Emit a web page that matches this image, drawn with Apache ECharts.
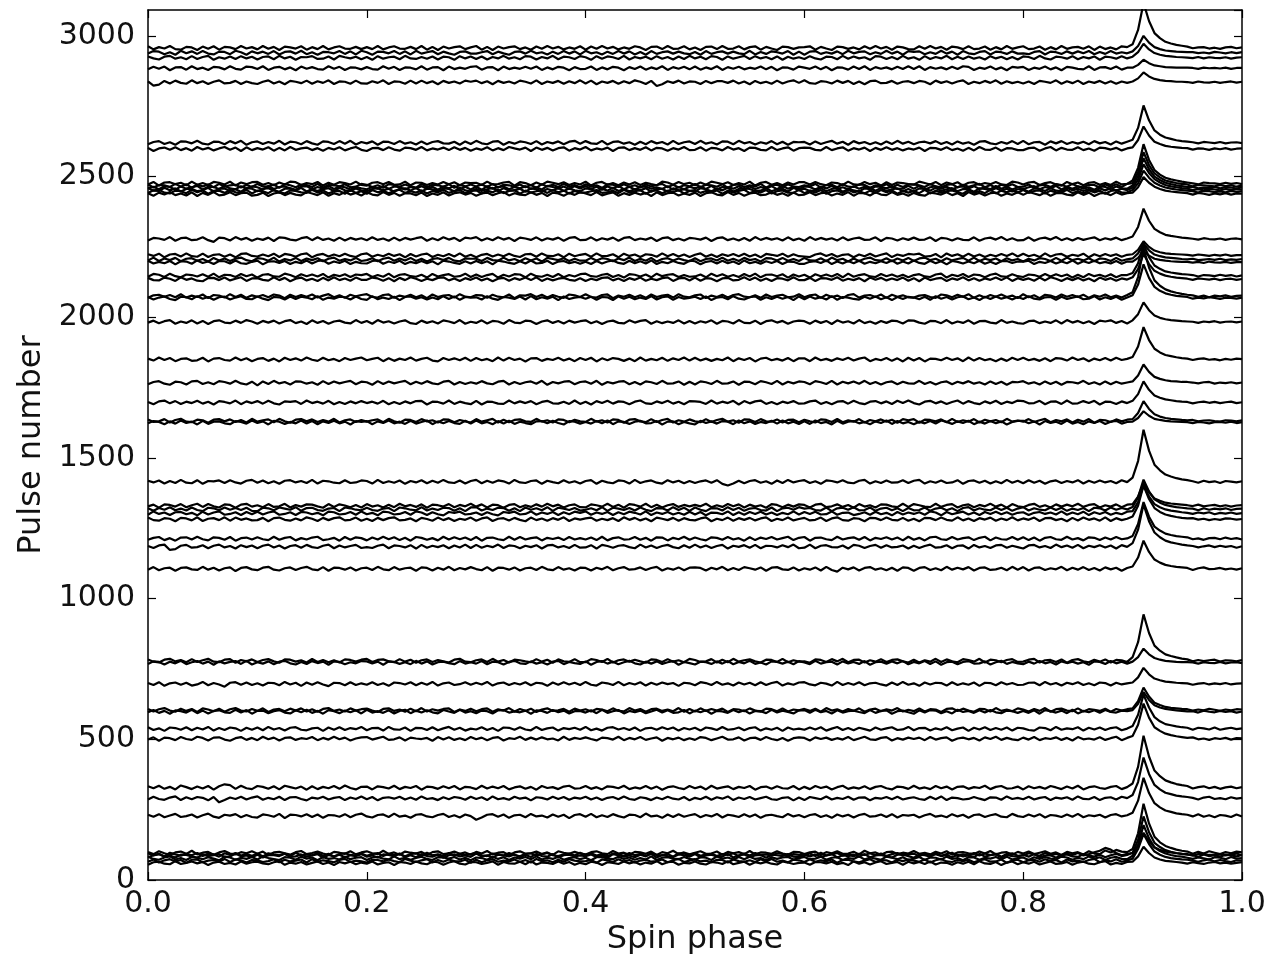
<!DOCTYPE html>
<html>
<head>
<meta charset="utf-8">
<title>Pulse profiles vs spin phase</title>
<script src="https://cdn.jsdelivr.net/npm/echarts@6/dist/echarts.min.js"></script>
<style>
  html, body { margin: 0; padding: 0; background: #fff; }
  #chart { width: 1282px; height: 954px; }
</style>
</head>
<body>
<div id="chart"></div>
<script>
// Spin-phase bins (200 bins across one rotation)
const PHASE = [
  0.000,0.005,0.010,0.015,0.020,0.025,0.030,0.035,0.040,0.045,0.050,0.055,0.060,0.065,0.070,0.075,0.080,0.085,0.090,0.095,
  0.100,0.105,0.110,0.115,0.120,0.125,0.130,0.135,0.140,0.145,0.150,0.155,0.160,0.165,0.170,0.175,0.180,0.185,0.190,0.195,
  0.200,0.205,0.210,0.215,0.220,0.225,0.230,0.235,0.240,0.245,0.250,0.255,0.260,0.265,0.270,0.275,0.280,0.285,0.290,0.295,
  0.300,0.305,0.310,0.315,0.320,0.325,0.330,0.335,0.340,0.345,0.350,0.355,0.360,0.365,0.370,0.375,0.380,0.385,0.390,0.395,
  0.400,0.405,0.410,0.415,0.420,0.425,0.430,0.435,0.440,0.445,0.450,0.455,0.460,0.465,0.470,0.475,0.480,0.485,0.490,0.495,
  0.500,0.505,0.510,0.515,0.520,0.525,0.530,0.535,0.540,0.545,0.550,0.555,0.560,0.565,0.570,0.575,0.580,0.585,0.590,0.595,
  0.600,0.605,0.610,0.615,0.620,0.625,0.630,0.635,0.640,0.645,0.650,0.655,0.660,0.665,0.670,0.675,0.680,0.685,0.690,0.695,
  0.700,0.705,0.710,0.715,0.720,0.725,0.730,0.735,0.740,0.745,0.750,0.755,0.760,0.765,0.770,0.775,0.780,0.785,0.790,0.795,
  0.800,0.805,0.810,0.815,0.820,0.825,0.830,0.835,0.840,0.845,0.850,0.855,0.860,0.865,0.870,0.875,0.880,0.885,0.890,0.895,
  0.900,0.905,0.910,0.915,0.920,0.925,0.930,0.935,0.940,0.945,0.950,0.955,0.960,0.965,0.970,0.975,0.980,0.985,0.990,0.995,
  1.000
];

// Pulse number at which each profile is plotted (its baseline)
const BASELINES = [
  96, 86, 77, 68, 90, 60, 228, 290, 328, 502,
  537, 598, 604, 697, 772, 779, 1106, 1185, 1213, 1282,
  1303, 1318, 1330, 1415, 1626, 1632, 1697, 1767, 1850, 1983,
  2068, 2075, 2135, 2148, 2195, 2205, 2220, 2278, 2438, 2446,
  2453, 2460, 2467, 2475, 2598, 2620, 2835, 2885, 2922, 2940,
  2957
];

// Profile offsets from the baseline, one value per PHASE bin
const trace01 = [
  3,-4,6,-1,-7,2,5,-3,8,-5,1,4,-6,2,7,-2,-5,3,-1,6,
  -3,5,-8,2,4,-1,-6,3,7,-4,0,5,-2,-7,4,1,-3,6,-5,2,
  6,-1,-4,8,-3,2,-6,5,1,-2,4,-7,3,6,-4,-1,5,-3,2,-6,
  4,-2,7,-5,1,3,-8,2,6,-3,-1,5,-4,2,-7,6,1,-3,4,-2,
  -5,3,6,-1,-4,7,-2,1,-6,4,2,-3,5,-7,3,-1,8,-4,2,-5,
  1,6,-3,-2,5,-6,4,-1,3,-4,7,-5,2,1,-3,6,-2,-6,4,3,
  -4,2,5,-7,3,-1,6,-3,-2,4,-5,8,-1,2,-6,3,5,-4,1,-2,
  7,-3,1,-5,4,-2,6,-6,2,3,-1,-4,5,-2,7,-5,1,3,-6,4,
  -2,5,-4,1,6,-3,2,-7,4,-1,3,-5,6,-2,-4,9,2,11,5,3,
  14,70,175,105,58,38,25,18,12,8,5,-3,4,-2,6,1,-4,3,-1,5,2];
const trace02 = [
  -5,2,7,-3,1,-6,4,3,-2,-7,5,-1,2,6,-4,-3,8,-2,1,-5,
  4,-6,3,2,-1,7,-4,-2,5,-3,1,6,-7,3,-2,4,-5,2,-1,6,
  -3,1,-6,5,3,-2,7,-4,2,-5,6,-1,-3,4,-7,2,5,-2,1,-4,
  8,-3,2,-6,4,1,-2,5,-5,3,-4,7,-1,-3,6,-6,2,4,-2,1,
  -1,5,-4,3,-7,6,2,-3,1,-5,4,-2,7,-6,3,-1,-4,5,2,-3,
  6,-5,1,4,-2,-3,7,-6,2,5,-4,1,3,-7,4,2,-1,6,-3,-5,
  3,-2,5,-4,1,7,-6,2,-1,4,-3,6,-5,1,3,-2,-6,4,5,-1,
  -7,4,2,-3,6,-1,3,-5,4,-2,1,-4,7,-3,2,5,-6,3,-1,-2,
  4,-3,6,-5,1,2,-7,3,5,-2,-4,6,1,-3,4,-5,2,7,-1,3,
  11,56,140,84,46,31,20,14,10,7,4,3,-4,5,-1,2,-3,4,1,-2,3];
const trace03 = [
  6,-2,-5,3,7,-4,1,-6,5,2,-3,4,-1,-7,6,3,-5,2,-2,5,
  -4,7,1,-3,-6,4,2,-5,6,-1,3,-7,5,-2,1,-4,6,-3,2,4,
  -6,3,5,-1,-4,7,-3,2,-5,1,6,-2,-6,4,3,-1,5,-4,2,-7,
  3,1,-5,6,-2,4,-6,3,-1,5,-3,7,-4,2,-2,6,-5,1,4,-3,
  2,-7,4,5,-1,-3,6,-2,3,-5,1,-4,7,-6,2,4,-1,-3,5,-2,
  -5,4,2,-6,7,-1,3,-4,5,-3,6,-2,1,-7,4,-2,3,5,-4,1,
  5,-3,-1,6,-5,2,4,-6,1,-2,7,-4,3,-1,-5,6,2,-3,4,-6,
  -1,5,-6,3,2,-4,6,-2,1,-7,4,3,-5,2,-1,5,-3,6,-4,1,
  3,-6,4,-2,5,-1,-4,6,3,-5,2,-3,7,-1,4,-6,2,5,-2,-3,
  9,47,118,71,39,26,17,12,8,6,2,-2,3,0,-4,4,2,-3,5,-1,1];
const trace04 = [
  -3,5,-6,2,6,-2,3,-7,4,5,-5,1,3,-3,7,-4,5,2,-6,3,
  2,-4,-1,6,-5,4,-2,1,5,-6,6,-3,2,-1,-5,3,7,-4,1,-2,
  -6,4,3,-2,5,-1,-5,7,1,-4,2,6,-6,3,-3,5,-1,-2,4,-7,
  4,-5,2,6,-3,1,-2,5,-4,3,-6,7,-1,2,-5,4,-3,6,1,-2,
  -1,3,-7,5,2,-4,6,-2,3,-6,1,4,-3,-1,5,-5,2,7,-4,1,
  6,-2,1,-5,4,3,-6,5,-1,-3,2,-4,6,-2,7,-3,1,-5,4,2,
  -4,6,-3,2,-1,5,-7,3,4,-2,-5,1,6,-4,3,2,-6,4,-1,5,
  1,-3,5,-6,2,7,-2,-4,3,-1,4,-5,2,6,-3,-2,5,-7,1,4,
  -5,2,4,-3,6,-1,3,-6,5,-2,1,-4,3,7,-5,2,-2,6,-3,1,
  8,42,96,60,33,22,14,10,7,5,4,1,-3,2,5,-2,3,-1,-4,2,1];
const trace05 = [
  5,-3,2,-6,7,1,-4,3,-2,6,-5,4,1,-7,5,-1,6,-3,2,-4,
  3,-6,5,1,-2,4,-5,7,-3,1,-2,6,-4,3,-7,2,5,-1,-3,4,
  -4,2,6,-5,3,-1,4,-6,2,5,-3,7,-2,1,-5,6,-4,3,-1,2,
  7,-2,-5,4,1,-3,6,-1,-6,3,5,-4,2,6,-2,-5,1,4,-3,7,
  -1,5,-3,2,-6,4,1,-4,6,-2,3,-5,7,-1,-3,2,-7,5,4,-2,
  6,-4,1,3,-5,2,-1,5,-6,4,-3,6,-2,1,-4,5,3,-6,2,-1,
  -2,4,-5,7,-3,1,6,-4,2,-6,3,-1,5,-2,4,-5,2,6,-3,1,
  4,-6,3,-1,5,-4,2,7,-5,1,-2,6,-3,4,-1,3,-7,2,5,-4,
  -3,5,1,-4,6,-2,3,-5,4,-1,6,-3,2,8,14,24,18,6,-2,3,
  6,31,78,47,26,17,11,8,5,3,2,-4,2,3,-1,0,2,-3,1,4,-2];
const trace06 = [
  -6,3,5,-2,-4,7,-3,1,6,-1,4,-7,2,5,-3,1,-5,6,-2,3,
  5,-1,-4,3,7,-6,2,-2,4,-5,1,6,-3,2,-7,4,-1,5,-4,2,
  -2,6,-5,1,3,-7,4,2,-3,6,-1,-4,5,3,-6,2,7,-2,-5,4,
  3,-3,1,6,-6,4,-1,-2,5,-4,7,-5,2,1,-3,6,-2,4,-6,1,
  -4,5,2,-7,3,1,-3,6,-1,4,-5,2,-2,7,-4,3,5,-6,1,-1,
  6,-2,-5,4,2,-3,7,-4,1,5,-6,3,-1,4,-2,-5,6,2,-3,1,
  2,-6,4,3,-1,5,-4,1,-7,6,-2,3,-5,2,7,-3,1,4,-6,5,
  -1,4,-3,6,-5,2,1,-6,3,-2,5,-4,7,-1,-3,4,-7,2,6,-4,
  3,-2,5,-5,1,6,-3,-1,4,-6,2,5,-2,-4,3,7,-5,1,-3,4,
  5,24,58,36,20,13,8,6,4,2,-2,3,0,-3,2,4,-1,2,-2,1,3];
const trace07 = [
  4,-3,6,-5,1,7,-4,-1,5,-6,2,8,-3,-7,4,1,6,-5,3,-4,
  -6,5,2,-3,7,-8,4,3,-2,6,-4,5,-7,3,2,-3,6,-5,4,8,
  -2,-6,3,5,-4,8,-3,1,-7,4,6,-2,-5,3,7,-4,2,-6,5,-1,
  -14,-6,4,6,-3,5,-7,2,4,-5,7,-2,1,-6,5,-3,4,-8,3,6,
  -3,7,-5,2,-4,6,-1,-6,4,3,-5,8,-2,1,-7,5,-4,6,-3,2,
  6,-5,3,-2,7,-6,4,1,-4,6,-3,5,-7,2,4,-1,-5,7,-2,3,
  -5,3,6,-4,2,-7,5,-2,4,-6,3,7,-3,-1,5,-4,6,-6,3,1,
  4,-6,2,7,-3,1,-5,6,-2,4,-7,3,5,-4,2,6,-3,-5,7,-1,
  -4,5,-2,6,-6,3,1,-4,5,-3,7,-5,2,-1,4,-6,3,6,-2,2,
  11,54,135,81,45,30,19,14,9,6,4,-2,6,-3,2,-5,3,1,-4,5,-2];
const trace08 = [
  -4,6,-2,-5,3,7,-6,4,-3,5,2,-7,5,-14,-6,3,-2,6,-4,3,
  7,-5,2,-3,6,-6,4,5,-2,-7,3,-1,6,-4,2,5,-6,3,-2,7,
  -3,5,-7,2,4,-1,6,-4,3,-5,7,-2,1,-6,4,-3,5,2,-5,6,
  -2,4,-6,7,-3,1,-5,6,-1,3,-7,4,2,-4,6,-2,5,-5,3,-1,
  6,-4,3,-6,2,5,-3,7,-2,-5,4,1,-6,3,-3,6,-1,-4,5,-7,
  2,-3,6,-5,4,-1,7,-6,3,-2,5,-4,1,6,-3,-5,2,4,-7,3,
  -6,5,1,-3,7,-4,2,-2,6,-5,3,4,-7,2,-1,5,-3,6,-4,1,
  4,-2,-5,6,-3,7,-6,3,1,-4,-2,5,-1,-6,4,3,-5,7,-2,2,
  -3,6,-4,2,5,-6,3,-1,4,-5,7,-2,-3,5,-6,2,4,-4,6,1,
  12,58,145,87,48,32,20,15,10,7,5,2,-4,3,6,-2,1,-3,4,-1,2];
const trace09 = [
  5,-2,7,-4,3,-6,8,2,-5,4,-3,6,-7,5,12,9,-4,7,-2,-5,
  6,3,-4,5,-6,7,2,-3,4,-7,5,-5,3,-2,6,-4,8,-1,-6,3,
  4,-6,5,2,-3,7,-5,3,-1,6,-7,4,2,-4,5,-2,6,-6,3,1,
  -5,7,-3,4,-2,6,-6,1,5,-4,3,-7,6,-1,2,-5,4,7,-3,-2,
  6,-4,2,-6,5,3,-2,7,-5,1,-3,6,-4,4,-7,2,5,-1,-5,6,
  -2,4,-6,7,-3,1,5,-5,3,-1,6,-7,2,4,-4,5,-2,-3,6,-6,
  3,-5,6,-1,4,-6,2,7,-4,1,-3,5,-5,3,6,-2,-6,4,2,-4,
  7,-3,1,-5,6,-2,4,-6,3,5,-4,2,-1,7,-5,3,6,-3,-2,4,
  -6,5,-2,3,-4,6,1,-5,4,-3,7,-6,2,5,-1,-4,3,6,-5,2,
  15,74,185,111,61,41,26,19,13,9,6,-3,2,5,-2,3,-4,1,4,-2,2];
const trace10 = [
  -3,5,-7,4,2,-5,6,-1,-4,7,3,-6,4,5,-3,-7,2,6,-4,3,
  -5,7,-2,4,-6,3,5,-4,2,-1,6,-5,3,-3,7,-2,4,-6,1,5,
  6,-3,2,7,-4,-2,5,-6,4,1,-1,3,-7,6,-3,5,-4,2,-5,6,
  -2,4,-5,3,6,-6,2,-1,7,-4,4,-3,5,-2,1,-6,7,-4,3,-1,
  5,-1,-6,4,2,-3,7,-5,3,-2,6,-4,1,5,-7,3,-2,4,-5,2,
  -4,6,3,-5,1,7,-3,-2,5,-6,2,4,-4,6,-1,-5,3,-7,2,5,
  3,-6,5,-1,4,-4,2,-3,6,-5,1,7,-2,-4,3,6,-6,2,-3,4,
  -1,4,-5,6,-3,2,5,-7,1,4,-2,3,-6,5,-1,7,-4,3,-2,-5,
  4,-3,6,-5,2,-1,5,-4,3,-6,6,-2,1,-3,5,-4,2,7,-5,3,
  10,50,125,75,41,28,18,13,9,6,3,5,-2,1,-4,2,-1,3,-3,2,1];
const trace11 = [
  6,-4,2,-7,5,3,-3,6,-5,4,-2,7,-6,3,-4,5,2,-7,4,-3,
  5,-5,7,-2,3,-6,4,6,-3,-5,2,4,-7,5,-3,6,-4,3,-1,7,
  -5,3,4,-6,7,-2,-3,5,-7,4,3,-4,6,-5,2,7,-3,4,-6,1,
  -2,6,-4,3,-7,5,4,-3,6,-2,-5,7,-4,2,5,-6,3,-1,4,-3,
  7,-5,1,-6,4,6,-2,3,-4,5,-7,2,4,-3,6,-1,5,-6,3,-2,
  4,-6,5,2,-4,7,-3,-1,5,-5,3,6,-6,2,-3,4,-7,5,-2,1,
  -3,5,-2,6,-6,1,7,-4,3,-5,4,-1,-6,5,-3,2,6,-4,-2,7,
  -5,3,4,-6,2,-3,6,-5,1,5,-7,4,-2,6,-4,3,-3,5,-6,4,
  2,-4,-6,5,3,-5,7,-3,2,-1,6,-6,4,-2,5,-4,3,6,-5,1,
  10,50,122,76,42,27,17,13,9,6,4,-3,4,2,-2,5,-3,1,4,-1,2];
const trace12 = [
  -2,6,-4,3,-7,5,2,-3,7,-5,4,-6,3,5,-2,-4,7,-3,6,-7,
  3,4,-5,2,6,-3,-6,5,-2,7,-4,3,-7,6,2,-5,4,-2,5,-6,
  7,-3,2,-4,5,-6,3,7,-5,4,-3,5,-2,-6,6,1,-4,7,-3,2,
  -5,4,2,-6,5,6,-3,1,-2,4,-7,5,3,-4,6,-2,4,-6,2,3,
  -3,5,-5,7,-4,2,6,-6,3,-2,4,-5,1,7,-3,5,-4,-2,6,-6,
  4,-2,5,-7,3,1,-4,6,-2,5,-6,3,2,-5,7,-3,4,-1,-6,5,
  6,-4,7,-2,3,-6,5,-3,2,4,-1,-5,6,-4,3,5,-7,2,4,-2,
  -7,5,-3,6,4,-5,2,-6,7,-1,3,-4,5,-3,6,-2,-5,4,2,-4,
  3,-4,5,-7,6,2,-3,4,-5,7,-6,3,-2,5,-4,6,-1,-3,4,2,
  6,28,70,42,23,15,10,7,5,3,1,2,-3,4,0,-2,3,-1,2,-3,1];
const trace13 = [
  4,-5,3,7,-2,-6,5,-3,4,-7,6,2,-4,5,-6,3,7,-2,-5,4,
  -3,6,-7,2,4,-4,5,-2,6,-5,3,-6,4,7,-3,2,-5,6,-2,3,
  5,-2,-7,4,6,-3,2,-6,5,-4,7,-5,3,-2,4,6,-7,2,-3,5,
  -4,3,6,-6,3,-2,7,-5,4,-3,5,-7,2,6,-3,-1,4,-6,5,-2,
  3,-5,4,2,-4,6,-3,-5,7,-2,4,-6,3,5,-3,2,-4,7,-6,4,
  -5,6,-3,4,-2,5,-7,3,2,-4,6,-2,-6,5,3,-4,6,-5,2,-1,
  4,-3,5,-6,7,-2,3,-5,4,-3,6,-6,2,5,-4,3,-2,7,-5,1,
  -4,6,-5,3,2,-7,4,6,-3,5,-2,-6,4,3,-5,7,-3,2,-4,6,
  2,-5,4,-3,7,-6,3,5,-2,-4,6,-5,3,1,-3,5,-6,4,-2,3,
  6,32,80,48,26,18,11,8,6,4,3,-2,2,-1,4,1,-3,2,-1,3,2];
const trace14 = [
  3,-4,6,-7,2,5,-3,4,-6,-2,7,-5,3,-2,-10,4,6,-3,5,-4,
  2,-6,4,3,-5,7,-2,4,-7,5,-3,6,-2,-8,4,3,-5,6,-4,2,
  -3,6,-4,2,-7,5,3,-2,6,-5,4,-3,7,-6,2,5,-4,-1,6,-3,
  4,-2,7,-6,2,5,-4,3,-2,6,-5,4,2,-7,5,-3,6,-2,4,-4,
  7,-3,-6,5,2,-4,7,-5,3,-2,6,-6,4,-3,5,-1,3,-7,4,2,
  -5,6,3,-4,7,-3,2,-6,5,-2,4,-5,6,-4,3,7,-6,2,-3,5,
  6,-2,-5,4,1,-6,7,-4,3,-3,6,-5,2,4,-2,-6,5,-4,7,-3,
  2,-7,5,-2,4,3,-6,6,-4,2,-3,5,-7,4,3,-5,6,-2,3,-4,
  -3,4,5,-5,7,-2,3,-6,4,-1,6,-4,2,-5,5,3,-6,4,-2,2,
  5,23,57,34,19,13,8,6,4,3,2,-3,1,3,-2,2,-1,3,-2,1,2];
const trace15 = [
  -4,5,3,-6,4,-2,7,-5,2,6,-3,4,-7,5,-2,3,6,-4,7,-6,
  2,-3,5,-5,4,7,-2,-6,3,-4,6,-1,4,-7,5,3,-5,2,-2,6,
  5,-2,4,-7,5,3,-4,2,-5,7,-3,5,-6,2,4,-1,-5,6,-3,2,
  -3,6,-5,4,2,-6,3,7,-2,-4,5,-3,2,-6,4,7,-5,3,-1,-4,
  5,-7,3,6,-3,4,-5,2,7,-2,-6,4,-3,5,-4,2,6,-7,3,-1,
  -6,4,2,-4,5,-3,6,-5,3,-2,7,-4,1,-6,5,3,-3,4,-5,6,
  1,-5,7,-3,2,4,-6,5,-2,3,-4,6,-7,2,4,-3,5,-2,6,-5,
  3,-2,6,-4,5,-7,2,4,-5,3,6,-3,-2,5,-6,2,7,-4,3,-2,
  -5,4,-3,6,-2,3,-6,5,-1,4,-3,2,-7,5,3,-4,6,-2,4,-3,
  4,20,50,30,17,11,7,5,3,2,2,1,-3,2,0,-1,3,-2,1,2,-1];
const trace16 = [
  5,-3,-6,4,7,-2,3,-5,6,-4,2,7,-3,-5,4,6,-7,3,-2,5,
  -4,3,6,-2,-7,5,4,-3,2,-6,7,-4,3,-5,2,-6,5,3,-3,4,
  7,-4,3,5,-2,-5,6,-3,4,-7,2,5,-4,3,-2,-6,4,7,-3,-5,
  2,5,-4,7,-3,3,-6,4,2,-2,-5,6,-3,4,-7,5,-2,-4,6,-5,
  -5,6,3,-4,7,-6,2,5,-3,4,-2,-7,5,3,-4,6,-3,2,-5,7,
  3,-4,-2,6,-6,4,-5,7,-3,2,5,-2,-6,4,3,-4,7,-5,2,-3,
  -2,-7,5,3,-4,6,-2,7,-5,3,4,-6,2,-3,6,-4,3,5,-2,-6,
  4,-6,2,-3,7,-4,5,-2,-5,6,3,-3,7,-6,4,2,-5,3,6,-4,
  -3,4,7,-6,2,3,-4,5,-7,3,6,-2,-5,4,-3,5,-6,3,2,-4,
  13,66,165,99,54,36,23,17,12,8,5,-2,3,-1,2,4,-3,2,1,-2,3];
const trace17 = [
  -3,6,-5,2,4,-7,3,5,-2,-4,7,-3,4,-6,2,5,-8,3,6,-2,
  -5,4,7,-3,-6,2,5,-4,3,7,-2,-5,6,-7,4,3,-3,5,-6,2,
  4,-4,7,-2,-5,6,-3,2,4,-7,5,3,-6,4,-3,7,-5,3,-2,6,
  -1,-5,6,-7,4,3,-3,5,-6,2,4,-4,7,-2,-5,6,-3,2,-6,4,
  3,-6,4,-2,7,-5,2,6,-3,-1,5,-4,3,7,-6,2,-3,5,-5,4,
  5,3,-6,4,-2,7,-5,3,-4,6,2,-3,5,-7,4,6,-2,-4,5,-6,
  2,-3,5,-6,7,-4,-10,4,-2,5,-6,3,6,-3,2,-5,4,-7,5,3,
  -7,3,6,-4,2,-5,7,-3,4,-2,6,-6,3,5,-4,-2,4,-5,7,-3,
  6,-6,3,5,-4,2,-2,7,-5,4,-3,6,-4,3,-6,5,-2,4,-7,3,
  8,40,100,60,33,22,14,10,7,5,3,-4,2,5,-1,0,3,-2,1,-3,2];
const trace18 = [
  2,-5,4,7,-12,-9,3,6,-4,-2,5,-6,3,7,-3,2,-7,5,-2,4,
  -6,3,7,-3,4,-7,2,5,-4,6,-2,-5,3,7,-6,4,-3,2,6,-5,
  -2,-5,3,7,-6,4,2,-3,5,-7,6,-4,3,-2,5,-6,4,-3,7,-5,
  6,-4,3,-2,7,-5,4,2,-6,3,-2,5,-7,4,6,-3,2,-5,6,-4,
  -3,5,-7,6,2,-4,3,5,-2,-6,7,-3,4,-5,2,6,-2,-6,5,-4,
  7,-3,4,-5,2,6,-7,3,-1,5,-4,6,-6,3,2,-3,5,-2,7,-6,
  -4,7,-6,3,5,-2,-3,4,-7,6,3,-5,2,6,-4,5,-3,-1,4,-7,
  3,-5,2,7,-4,-2,5,-6,3,4,-7,6,-3,2,-5,4,6,-4,3,-2,
  -7,4,6,-3,2,-5,7,-2,4,-4,6,-6,3,-2,5,-3,4,-7,5,-1,
  12,60,150,90,50,33,21,15,11,7,4,2,-3,1,4,-2,3,-1,2,-4,1];
const trace19 = [
  -4,3,6,-5,2,-7,4,5,-3,7,-2,-6,5,3,-4,6,-7,2,4,-3,
  5,-2,-5,7,-4,3,6,-6,2,-3,4,7,-5,-2,3,-7,6,-4,5,2,
  -6,4,-3,7,-2,5,-5,3,-7,6,3,-4,2,-6,7,-3,5,-2,4,-5,
  6,-7,3,4,-2,-5,7,-4,6,-3,2,5,-6,3,-1,4,-5,6,-3,2,
  -3,4,-5,7,-6,2,5,-3,-2,6,-4,3,-7,5,4,-6,3,-2,7,-4,
  4,-2,-6,5,3,-4,6,-3,2,-7,5,-5,4,-1,6,-3,2,7,-5,3,
  6,-7,3,4,-2,-5,7,-3,2,5,-4,6,-6,3,-1,5,-3,4,-6,7,
  -4,3,-6,5,7,-2,-4,6,-3,2,5,-5,3,7,-6,4,-2,-3,6,-4,
  5,-5,4,-7,3,6,-2,-4,7,-3,2,-6,5,3,-5,4,-3,6,-2,1,
  10,52,130,78,43,29,18,13,9,7,5,-2,1,-4,2,3,-2,4,-1,2,-3];
const trace20 = [
  6,-3,-5,4,2,-7,5,3,-4,7,-6,2,4,-3,7,-5,6,-2,3,-4,
  -3,5,-7,4,6,-2,-5,3,-4,7,2,-6,5,-3,4,7,-4,-2,6,-5,
  2,-6,5,-3,4,7,-4,-2,3,-7,5,1,-5,6,-3,4,-6,2,-2,6,
  -5,3,7,-6,2,4,-4,5,-2,-7,6,-3,3,-5,4,-2,7,-6,3,-1,
  3,6,-5,2,-3,4,-6,7,-2,5,-4,3,-7,6,2,-3,5,-5,4,-2,
  -4,3,7,-7,2,-3,6,-5,4,-2,5,-4,3,7,-6,2,-3,6,-4,1,
  5,-4,-2,6,-6,3,7,-3,-5,4,2,-7,5,4,-3,6,-2,-4,5,-5,
  2,-7,5,4,-3,6,-2,-5,7,-4,3,-6,4,-1,6,-5,3,-3,7,-4,
  3,-2,6,-6,4,5,-3,2,-7,5,-4,6,-2,3,-5,7,-6,4,-3,2,
  10,48,120,72,40,26,17,12,8,5,3,4,-1,2,-3,1,-2,3,2,-1,1];
const trace21 = [
  -5,7,-2,3,-6,4,5,-3,2,-7,6,-4,3,7,-5,-2,4,-6,5,-3,
  6,-4,3,7,-5,-2,4,-6,5,3,-3,2,-7,6,4,-4,-2,5,-5,7,
  -3,2,-7,6,4,-4,-2,5,-5,7,3,-6,4,-3,-7,5,2,6,-4,-2,
  3,-6,4,-3,-7,5,2,6,-4,-2,7,-5,3,-2,5,-6,4,-3,6,2,
  7,-5,3,-2,5,-6,4,-3,6,2,-4,7,-6,3,-2,5,-4,2,-5,6,
  -4,5,-7,3,2,-3,7,-6,4,-5,5,-2,6,-4,3,-6,2,-3,7,-4,
  5,-2,6,-4,-3,7,-5,2,3,-6,-2,4,-5,6,-3,2,-7,5,-4,3,
  -2,4,-5,7,3,-7,5,-3,2,6,-4,3,-6,5,-2,6,-3,4,-5,2,
  4,-6,2,5,-2,3,-4,7,-5,3,-3,6,-6,4,-2,5,-5,2,-3,6,
  8,40,100,60,33,22,14,10,7,4,2,-2,3,0,4,-3,2,-1,3,-2,1];
const trace22 = [
  3,-6,4,-2,7,-4,2,-5,6,-3,-7,5,3,-4,6,-2,4,-3,5,-6,
  -7,5,3,-4,6,2,-2,7,-6,4,5,-3,-6,2,4,-7,6,3,-2,-4,
  5,-3,-6,2,4,-7,6,3,-2,-4,7,-5,2,-3,5,4,-6,3,-7,6,
  7,-5,2,-3,5,4,-6,3,-7,6,-2,3,-4,7,-6,5,2,-3,4,-5,
  -2,3,-4,7,-6,5,2,-3,4,-5,6,-2,-7,4,3,-5,7,-3,5,-6,
  6,-2,-7,4,3,-5,7,-3,5,-6,2,4,-3,-5,6,-7,3,5,-2,7,
  2,4,-3,-5,6,-7,3,5,-2,7,-4,-3,6,-6,2,5,-4,3,-7,4,
  -4,-3,6,-6,2,5,-4,3,-7,4,7,-5,3,-2,-4,6,-3,5,-6,2,
  7,-5,3,-2,-4,6,-3,5,-6,2,-3,4,-7,5,3,-5,6,-2,4,-1,
  8,42,105,63,35,23,15,11,7,5,3,2,-4,3,-2,2,-1,3,-3,1,2];
const trace23 = [
  -2,4,-7,5,3,-3,6,-5,2,7,-4,6,-2,-6,5,3,-7,4,7,-3,
  2,-5,6,-4,-2,7,-6,3,-3,5,4,-2,-7,6,-4,5,1,-5,3,-6,
  6,-3,2,-6,4,-5,7,-2,3,-4,5,-7,4,2,-3,6,-5,3,-2,7,
  -3,5,-6,4,2,-7,3,6,-5,2,-4,5,-3,7,-2,4,-6,2,5,-5,
  -6,5,2,-3,7,-4,4,-7,6,3,-3,7,-5,4,-6,2,6,-4,3,-2,
  3,-2,7,-5,2,-4,6,-2,5,-6,4,-3,2,-7,6,3,-5,4,-3,5,
  3,-6,4,7,-5,-2,5,-4,3,-7,6,-3,2,-6,5,4,-2,-5,7,-4,
  6,2,-3,-5,7,-4,3,6,-6,2,5,-5,3,-2,7,-3,4,-7,6,-2,
  -5,3,7,-4,2,-6,5,-3,4,-2,7,-4,3,6,-6,2,-3,5,-5,4,
  6,32,80,48,26,18,11,8,6,4,2,-1,4,-2,1,3,-2,2,-3,1,2];
const trace24 = [
  4,-2,5,-6,3,-4,7,-3,-5,6,-7,3,2,5,-4,6,-2,-6,4,7,
  -3,5,-5,2,-7,4,6,-2,3,-4,7,-6,4,2,-3,-5,6,-4,-2,5,
  3,-6,7,-4,2,-3,5,-7,3,-2,6,-5,4,-3,7,-2,-4,5,-6,3,
  7,-5,4,-3,5,2,-6,7,-2,-4,3,5,-7,4,-1,-5,6,-3,2,-6,
  3,6,-7,4,-2,-5,5,3,-6,7,-4,2,5,-3,-6,6,-2,4,-5,3,
  -4,2,5,-3,6,-7,-13,-6,4,-5,3,6,-3,2,-7,5,-4,7,-2,3,
  6,-4,2,-7,5,3,-2,6,-3,-5,4,7,-6,2,-4,5,-3,-2,6,-4,
  4,7,-6,2,-3,5,-4,-2,6,-7,3,5,-3,4,-6,2,-5,7,-3,4,
  -5,6,-3,4,-7,2,5,-4,3,-2,6,-6,4,-3,5,-2,3,-5,6,-1,
  15,74,185,111,61,41,26,19,13,9,6,2,-3,4,-1,2,-4,3,1,-2,2];
const trace25 = [
  -3,5,2,-6,4,-4,7,-2,3,-7,6,-5,3,4,-3,-6,5,2,-4,7,
  -2,4,-7,6,3,-5,2,-3,7,-4,5,-6,4,-2,6,-3,3,-7,5,2,
  5,-6,4,-2,7,-3,3,-5,6,-4,2,7,-6,4,-3,5,-2,-5,6,-4,
  7,-3,2,-6,5,-4,6,-5,3,-2,-6,4,5,-3,6,-2,-7,5,3,-4,
  2,-4,5,-3,7,-6,4,2,-5,3,6,-3,-2,5,-7,3,4,-6,2,-3,
  -7,6,-2,4,-4,5,3,-6,7,-3,4,-5,2,-2,6,-4,7,-3,3,-5,
  4,-5,7,-2,2,-7,6,-4,3,5,-3,2,-6,4,-2,7,-5,5,-3,2,
  -6,3,-3,5,-4,7,2,-5,4,-2,6,-6,3,-4,5,-3,4,-7,2,6,
  6,-3,4,-7,5,-2,3,-5,7,-4,2,-6,4,-2,5,-5,3,6,-4,2,
  3,16,40,24,13,9,6,4,3,2,1,-2,2,0,-3,1,2,-1,3,-2,1];
const trace26 = [
  5,-4,-2,6,-6,3,7,-3,-5,4,2,-7,4,6,-2,5,-4,3,-6,7,
  -3,2,5,-5,7,-2,-7,4,6,-2,5,-4,3,-3,7,-6,2,5,-4,3,
  -3,2,5,-5,7,-2,-7,4,3,-4,6,-2,2,-6,5,4,-5,3,-2,-6,
  6,-3,2,7,-6,4,-5,3,5,-2,-4,7,-3,2,-6,5,3,-5,4,-2,
  -4,7,-3,2,-6,5,3,-7,4,6,-2,-5,6,-4,3,7,-6,2,-3,5,
  -2,-5,6,-4,3,7,-3,2,-7,5,4,-4,6,-2,-3,5,-6,3,4,-5,
  4,-2,-6,5,3,-4,7,-5,2,-3,6,-6,3,-2,5,-3,4,-7,6,2,
  6,-7,4,3,-2,5,-5,7,-4,2,-3,6,-6,4,-2,3,-5,7,-3,1,
  -3,6,-4,2,7,-5,3,-2,5,-6,4,-3,6,-7,3,2,-4,5,-2,4,
  6,28,70,42,23,15,10,7,5,3,2,3,-2,1,2,-1,-3,2,1,-2,2];
const trace27 = [
  2,-6,4,7,-3,5,-5,3,-2,6,-4,3,-7,5,2,-3,7,-6,4,-2,
  5,-4,6,-3,-7,4,2,5,-5,7,-2,3,-4,6,-6,2,-5,4,-3,5,
  -2,3,-4,6,-6,2,-5,4,-3,5,6,-7,3,2,-4,7,-5,3,-2,-6,
  6,-7,3,2,-4,-5,7,-3,4,-2,5,-6,2,6,-3,-4,3,-5,7,-5,
  3,-7,5,-2,6,-4,4,2,-6,3,7,-3,-5,4,-2,6,-4,3,-6,5,
  4,2,-5,7,-4,3,-2,6,-7,5,-3,4,7,-5,2,-6,3,-2,5,-4,
  -3,4,7,-5,2,-6,3,5,-4,6,-2,-6,3,5,-3,4,-5,6,-2,7,
  -2,-7,3,6,-3,4,-5,2,7,-4,5,-2,-6,4,-3,6,-5,3,-2,7,
  5,-3,-2,6,-6,3,4,-5,7,-4,-3,5,-2,6,-7,3,2,-5,4,-2,
  6,30,75,45,25,17,11,8,5,3,2,-3,1,3,-1,2,-2,1,3,-2,1];
const trace28 = [
  -5,3,6,-3,-7,4,2,-6,5,7,-4,2,-5,6,3,-3,7,-2,-6,4,
  -9,5,-4,7,-2,3,-6,5,4,-3,2,-7,6,-4,5,-2,3,7,-5,4,
  2,-7,6,-4,5,-2,3,7,-5,4,-3,6,-2,-5,4,7,-6,3,-4,2,
  -3,6,-2,-5,4,7,-6,3,-4,2,5,-3,7,-7,3,-2,4,6,-5,3,
  5,-3,7,-7,3,-2,4,6,-5,3,-6,5,2,-4,7,-3,-2,5,-7,4,
  -6,5,2,-4,7,-3,-2,5,-7,4,3,-5,6,2,-4,7,-6,4,-2,5,
  3,-5,6,2,-4,7,-6,4,-2,5,-3,7,-4,3,-6,2,5,-5,4,-2,
  -3,7,-4,3,-6,2,5,-5,4,-2,6,-3,2,-6,5,-4,4,-7,3,2,
  6,-3,2,-6,5,-4,4,-7,3,2,-2,7,-4,2,-6,5,-5,4,-3,1,
  5,26,65,39,21,14,9,6,5,3,3,1,-2,2,3,-3,1,-1,2,-2,1];
const trace29 = [
  3,-4,7,-2,5,-6,2,4,-5,-3,6,-7,3,5,-2,-4,7,-3,4,-6,
  2,5,-5,3,-7,6,-2,4,-4,7,-1,-5,6,-3,2,-6,5,-2,3,7,
  -3,2,6,-6,4,-5,3,-2,7,-4,2,6,-4,-7,5,-2,4,-3,6,-5,
  5,-3,2,-6,7,-4,6,-2,3,-7,4,5,-5,2,-2,6,-4,3,-6,5,
  -2,6,-7,4,-3,5,2,-5,3,-6,7,-4,2,-3,6,-5,4,-2,7,-4,
  6,-4,3,-5,2,-3,7,-6,4,-2,5,-7,3,6,-3,2,-4,5,-6,4,
  4,-6,7,-3,2,-5,4,-2,6,-4,3,7,-6,2,-3,5,-5,4,-7,6,
  -4,5,-7,3,2,-3,6,-2,4,-6,7,-4,5,-3,2,-6,3,-5,6,-2,
  6,-3,2,-5,4,-6,5,3,-4,7,-2,4,-6,3,-3,5,-4,6,-2,2,
  9,46,115,69,38,25,16,12,8,5,3,-2,2,4,-1,1,-3,2,-1,3,1];
const trace30 = [
  -2,5,-4,3,7,-6,2,-3,6,-5,4,-7,3,6,-2,-4,5,-3,7,2,
  -6,4,-2,5,-5,3,7,-4,2,-7,6,-3,4,-6,2,5,-2,-5,7,-3,
  4,-6,7,-2,3,-5,2,6,-4,-7,5,-3,3,-5,6,2,-4,7,-6,1,
  -3,6,-5,4,2,-6,7,-2,-4,5,3,-7,2,6,-3,4,-5,5,-2,3,
  6,-4,3,-7,2,5,-3,-5,6,-2,4,7,-6,3,-4,2,-3,6,-5,4,
  -5,3,-2,6,-6,4,2,-5,7,-3,-4,5,-7,3,6,-2,4,-6,2,5,
  3,-6,5,-3,4,-7,6,-2,3,-5,7,-4,2,-6,4,-3,5,3,-5,6,
  5,-2,-6,4,3,-4,7,-5,2,-3,6,-6,3,4,-2,-5,7,-3,2,-4,
  -6,3,5,-4,2,-3,6,-5,7,-2,4,-4,3,-7,5,2,6,-3,4,-5,
  6,28,70,42,23,15,10,7,5,3,2,1,-3,2,0,3,-2,1,2,-1,2];
const trace31 = [
  4,-5,2,6,-3,-7,5,3,-4,7,-2,4,-6,3,5,-5,2,7,-3,-4,
  6,-2,-7,4,3,-5,6,-3,5,2,-4,7,-6,2,-2,5,3,-5,6,-3,
  -6,7,-4,2,-3,5,-7,4,6,-2,3,-5,2,-4,7,-3,6,-6,4,2,
  3,-5,7,-2,-6,4,2,-3,6,-5,7,-4,3,-2,5,-7,6,-3,2,4,
  -2,5,-6,4,3,-7,6,-2,5,-4,2,-3,7,-5,3,6,-6,4,-2,1,
  5,-3,6,-7,2,4,-4,7,-2,-5,3,6,-6,3,-3,5,-2,4,-7,6,
  -4,6,-2,3,-5,7,-6,4,2,-3,-5,5,-2,6,-4,3,-7,4,-3,5,
  2,-4,5,-6,7,-2,4,-5,3,6,-4,2,-7,5,-3,6,-2,3,-5,4,
  -3,7,-2,-5,3,4,-6,5,-3,2,6,-4,-2,7,-5,3,-3,5,-6,2,
  10,48,120,72,40,26,17,12,8,6,4,-2,2,-1,3,1,-3,2,1,-2,2];
const trace32 = [
  -6,3,5,-2,4,-4,7,-5,2,-3,6,-7,4,2,-5,7,-3,5,-6,3,
  -2,4,-4,6,2,-7,5,-3,4,-2,6,-5,2,7,-4,3,-6,5,-1,4,
  7,-3,-5,4,6,-6,2,-2,5,-4,3,-7,6,-3,2,4,-5,7,-2,-4,
  4,3,-6,5,-2,-4,6,-7,3,2,7,-3,5,-5,4,-2,-6,6,3,-3,
  7,-3,-5,4,6,-7,2,-2,5,-4,3,-6,6,-3,2,5,-5,7,-2,-4,
  3,6,-7,2,-3,5,-5,4,7,-2,-4,3,-6,6,-3,2,5,-4,-2,7,
  -4,3,6,-6,5,-3,2,-7,4,7,-5,2,4,-3,6,-6,5,-2,3,-4,
  -5,2,4,-3,-6,6,3,-4,5,-2,7,-6,3,-5,4,-2,6,-3,2,-7,
  7,-4,3,-7,5,2,-5,6,-2,4,-3,5,-6,3,-2,6,-4,2,-5,4,
  14,68,170,102,56,37,24,17,12,8,5,3,-2,2,-4,2,-1,3,-2,1,2];
const trace33 = [
  5,-3,-4,6,2,-6,7,-2,3,-5,-7,4,5,-3,6,-4,2,7,-6,3,
  4,-2,-5,7,-3,5,-7,2,6,-4,2,-6,5,-4,7,-3,3,-5,6,-2,
  -2,6,3,-5,4,-7,5,-3,7,2,-6,2,-3,5,7,-4,3,-6,4,-2,
  6,-4,3,-7,2,5,-5,4,-2,6,-3,7,-6,3,-4,2,5,-2,-5,4,
  -6,2,-3,5,7,-4,3,-6,4,-2,6,-5,2,-3,4,7,-6,3,5,-4,
  6,-5,4,2,-7,3,5,-4,-2,7,-3,6,-5,3,-6,4,2,-4,7,-3,
  -3,5,-6,4,3,-2,7,-5,2,-3,4,-7,6,-2,5,-4,3,-3,6,-5,
  4,-7,6,-3,2,5,-6,3,-2,7,-4,4,-5,3,-2,6,-3,7,-6,4,
  -2,3,-5,6,-4,7,2,-6,4,-3,5,-4,3,-7,6,-2,4,-5,3,-1,
  7,36,90,54,30,20,13,9,6,4,2,-2,3,1,-1,2,-3,1,2,-2,1];
const trace34 = [
  -4,6,3,-5,7,-2,-6,4,2,-3,5,-4,7,-6,3,2,-5,6,-2,4,
  -7,3,5,-3,-4,7,2,-6,5,-2,4,-3,6,-7,3,-2,5,-5,4,2,
  6,-5,2,-4,7,-6,3,5,-2,-4,3,-7,6,-3,2,5,-4,-2,7,-5,
  4,-5,2,6,-7,3,-3,5,4,-6,7,-2,-4,3,-5,6,-6,2,-3,5,
  7,-2,-4,3,6,-5,2,-7,5,3,-3,4,-6,7,-2,3,5,-5,2,-4,
  -3,4,-6,7,-2,5,-4,2,-5,6,-3,7,-6,3,4,-2,5,-7,4,-3,
  3,-7,5,-2,4,-3,6,-6,7,-4,2,5,-3,-5,6,-2,4,-4,3,-6,
  2,5,-3,-5,4,7,-7,3,-2,6,-5,4,2,-6,3,7,-3,-4,5,-2,
  -5,4,2,-4,6,-3,5,-2,4,-7,3,-6,6,-2,3,-4,5,-6,2,2,
  9,44,110,66,36,24,15,11,8,5,4,2,-3,2,1,-2,3,-1,2,-3,1];
const trace35 = [
  6,-4,2,-3,5,-7,4,3,-5,7,-2,3,-6,5,4,-4,7,-3,-5,2,
  6,-7,3,4,-2,5,-6,2,-3,7,-4,5,7,-5,3,-2,6,-6,2,-3,
  -4,5,7,-5,3,-2,6,-6,2,-3,5,-3,4,-7,6,3,-2,-5,4,-4,
  5,-3,4,-7,6,3,-2,-5,4,-4,7,-4,-2,6,-6,3,5,-3,2,-5,
  2,-6,5,-4,3,7,-2,-5,6,-3,4,-4,7,-6,2,-3,5,-2,-5,6,
  4,-7,2,5,-4,6,-3,3,-6,7,-3,2,-5,4,-2,5,-6,3,2,-5,
  -5,2,4,-2,7,-6,3,-4,5,-3,6,-5,2,-3,4,-2,7,-5,3,-4,
  7,-2,-5,6,-3,4,-7,5,2,-4,3,-3,6,-5,2,-6,4,5,-2,3,
  3,6,-6,2,-2,5,-4,3,-3,7,-5,4,-2,6,-3,2,-4,5,-5,3,
  3,16,40,24,13,9,6,4,3,2,2,-1,2,-2,3,0,-1,2,-2,1,1];
const trace36 = [
  -3,7,-5,4,-2,6,-6,3,5,-4,2,-7,6,-3,4,-5,3,7,-2,-6,
  5,3,-4,7,-7,2,-3,6,-5,4,-2,5,-6,3,7,-4,2,-3,6,-5,
  -2,5,-6,3,7,-4,4,-3,6,-5,3,-7,2,5,-2,6,-4,-6,4,3,
  3,-5,6,-2,-4,7,-3,2,-6,5,-3,4,-7,6,2,-2,5,-5,3,-4,
  -4,6,-3,5,2,-6,4,-2,7,-5,3,-4,6,-7,2,5,-3,4,-2,-6,
  5,-6,2,4,-3,7,-4,3,-5,6,-2,2,-7,5,4,-3,6,-4,2,-5,
  6,-3,-4,5,-6,7,-2,3,-7,4,-5,3,7,-2,-4,5,-6,4,-3,6,
  -5,4,7,-2,3,-6,5,-3,2,6,-4,7,-5,3,-2,4,-6,5,-3,2,
  -7,3,-3,5,2,-5,6,-4,7,-2,3,-3,5,-6,4,2,-5,6,-4,1,
  4,22,55,33,18,12,8,6,4,2,1,3,-2,0,2,-1,3,-2,1,-1,2];
const trace37 = [
  4,-2,6,-7,3,5,-4,7,-3,-5,6,-6,2,4,-5,3,-7,5,7,-2,
  -4,3,-3,6,-6,5,2,-5,4,7,-7,2,5,-4,3,-3,6,-2,-6,4,
  7,-5,2,-3,6,-2,4,-7,5,-4,3,6,-6,2,-3,5,-4,7,-5,2,
  -7,2,5,-4,3,-3,6,-2,-6,4,5,-5,7,-2,-3,4,-7,6,-3,2,
  5,-5,7,-3,-2,4,-7,6,-2,3,-6,4,2,-5,7,-3,5,-4,3,-6,
  2,7,-5,3,-6,4,-2,5,-3,6,-4,3,-7,5,2,-2,6,-5,4,-3,
  -4,-6,3,7,-2,5,-5,2,4,-7,3,-3,6,-4,2,7,-6,3,-2,5,
  3,6,-4,-3,5,-7,7,-2,4,-5,6,-4,3,-6,2,-3,5,-2,7,-4,
  6,-3,2,-6,7,-4,3,5,-5,2,-2,6,-7,4,-3,5,-2,4,-5,2,
  4,20,50,30,17,11,7,5,4,3,2,-1,3,1,-2,2,-1,3,-2,1,1];
const trace38 = [
  -5,4,2,-3,7,-6,3,5,-4,-2,6,-4,-10,5,3,-5,7,-2,4,-6,
  2,-3,5,-7,6,4,-2,-5,3,7,-4,6,-3,2,-6,5,-5,4,-2,3,
  -4,6,-3,2,-6,5,-5,4,-2,3,7,-6,3,-4,6,-2,4,-7,5,2,
  7,-5,3,-4,6,-2,4,-7,5,2,-3,6,-5,3,-2,5,-6,4,7,-4,
  -3,6,-5,3,-2,5,-6,4,7,-4,2,-2,5,-7,3,6,-4,2,-5,4,
  2,-2,5,-7,3,6,-4,2,-5,4,-6,7,-3,4,-2,3,-5,6,-4,2,
  -6,7,-3,4,-2,3,-5,6,-4,2,5,-3,-2,6,-7,4,2,-5,3,-3,
  5,-3,-2,6,-7,4,2,-5,3,-3,-4,6,-6,2,5,-2,7,-4,3,-5,
  -4,6,-6,2,5,-2,7,-4,3,-5,4,-3,2,6,-4,3,-2,5,-4,2,
  9,43,108,65,36,24,15,11,8,5,3,1,-2,3,0,-1,2,-3,1,2,-1];
const trace39 = [
  3,-6,5,-2,7,-4,2,-5,6,-7,4,-3,7,-5,-2,6,-4,3,5,-6,
  -3,5,-7,2,6,-4,4,-2,-5,7,2,-4,6,-6,3,-3,7,-2,4,-5,
  6,-2,-5,7,-3,4,-6,3,2,-4,5,-7,2,-3,6,-5,3,6,-2,4,
  -6,2,5,-4,3,7,-5,3,-2,-4,6,-3,4,-7,5,2,-6,4,-3,7,
  2,-4,7,-5,1,6,-6,3,-3,5,-2,4,-7,6,-4,3,5,-5,2,-3,
  5,-7,3,6,-2,-5,7,-3,4,-6,2,5,-4,-2,6,-3,3,-6,5,-4,
  -2,6,-4,3,5,-5,2,-3,7,-6,4,3,-5,6,-2,-4,7,-3,2,-6,
  4,-3,-6,5,2,-2,6,-4,3,-7,7,-2,4,-5,3,5,-6,2,-3,6,
  -3,7,2,-4,5,-6,3,4,-2,-5,6,-3,5,-7,2,4,-4,6,-2,3,
  5,24,60,40,26,18,12,9,7,5,3,-2,4,1,-3,2,-1,3,-2,2,1];
const trace40 = [
  -4,5,7,-3,-6,4,2,-5,7,-2,5,-7,3,4,-4,6,-2,-3,7,-6,
  4,2,-5,7,-3,-6,5,3,-2,-4,7,-3,5,-6,2,3,-7,6,-4,2,
  -7,6,-2,4,-5,3,7,-4,2,-3,5,-6,3,-2,7,-4,2,6,-5,3,
  5,-6,4,-2,7,-5,3,6,-7,4,-3,2,5,-4,6,-2,4,-6,3,-3,
  -3,2,6,-4,-2,4,-5,7,-3,2,6,-7,3,5,-5,4,-2,6,-6,3,
  6,-4,3,-2,5,-7,4,-2,3,7,-5,4,-3,6,-6,2,5,-3,-4,7,
  -5,4,-3,6,-7,2,5,-4,7,-2,3,-6,4,-4,6,-2,5,-7,3,-3,
  3,-5,7,-6,4,-3,2,5,-2,-7,6,-4,3,-5,7,-6,4,-2,5,-3,
  6,-4,3,5,-6,4,-2,-3,7,-5,3,-6,5,-2,4,-7,3,6,-3,-2,
  6,30,75,50,32,22,15,11,8,6,4,2,-3,3,2,-1,1,-2,3,-1,2];
const trace41 = [
  6,-3,-4,7,-2,5,-6,3,4,-5,-2,7,-6,3,5,-4,2,-7,6,4,
  -5,3,6,-2,-7,4,5,-3,7,-6,3,-4,2,6,-5,7,-2,-4,5,-3,
  -5,3,6,-2,4,-7,4,5,-3,7,-6,4,2,-4,5,3,-5,7,-2,-6,
  3,-4,2,7,-5,6,-3,-2,4,-7,5,2,-6,3,-3,7,-4,5,-2,-5,
  5,2,-6,4,-3,7,-4,3,-5,2,-2,6,-7,4,3,-6,5,-3,2,-4,
  -7,6,2,-5,4,-2,7,-6,3,5,3,-4,-3,6,-5,2,4,-6,7,-2,
  4,-4,-3,6,-5,3,7,-7,2,-2,-6,5,4,-3,6,-4,2,5,-5,3,
  -6,5,4,-3,7,-4,2,6,-5,3,2,-7,5,3,-2,6,-3,4,-6,2,
  2,-7,5,3,-4,6,-3,-5,7,-2,4,-4,3,-6,5,-2,6,-3,4,-1,
  7,36,90,60,38,26,17,12,9,6,4,-1,2,-2,4,1,-2,3,-1,2,1];
const trace42 = [
  -2,4,-5,6,3,-7,5,-3,2,7,-6,4,3,-4,7,-2,-5,6,-3,5,
  2,-6,7,-4,3,5,-2,-7,4,6,-5,3,-3,7,-4,5,2,-6,3,-2,
  -5,3,-3,7,-4,5,2,-6,3,-2,6,-4,4,-7,5,-2,7,-5,4,-6,
  4,-7,6,-3,2,5,-5,3,-2,6,-4,2,-6,7,3,-3,5,-4,6,-2,
  6,-4,4,-7,5,-2,7,-5,4,-6,3,5,-3,2,-4,6,-7,3,-5,4,
  -2,5,-4,7,-6,3,2,-3,6,-7,5,-4,3,-2,6,-5,7,-3,2,-4,
  5,3,-6,4,-2,7,-4,2,-5,6,-3,4,-7,5,3,-2,6,-4,-3,7,
  -3,7,-7,2,5,-3,4,-6,3,5,-2,6,-4,2,-5,7,-3,4,-6,2,
  -4,2,6,-5,3,-2,7,-6,4,-3,5,-3,2,-7,6,3,-4,5,-2,-3,
  8,42,105,66,40,28,18,13,9,6,3,3,-2,1,-1,3,-2,2,1,-3,2];
const trace43 = [
  5,-6,3,2,-4,7,-3,6,-7,4,-2,5,-5,7,-3,2,4,-6,3,-4,
  7,-2,-3,5,-7,6,2,-5,4,3,-4,7,-6,3,2,-2,6,-5,-3,7,
  4,-4,2,-7,6,3,-3,5,-2,-6,7,-5,4,2,-3,6,-7,3,-2,5,
  -2,5,-4,7,-6,4,2,-3,5,-5,3,-7,6,-2,4,-4,7,-3,3,-5,
  6,-3,2,-7,5,4,-4,6,-3,2,-6,5,-2,3,7,-5,4,-6,2,-2,
  7,-5,4,2,-3,6,-7,3,5,-4,2,-2,7,-6,3,4,-5,6,-3,-4,
  2,-2,7,-6,3,4,-5,6,-3,-4,5,3,-7,2,-2,6,-6,4,-4,5,
  5,2,-4,7,-2,-5,3,6,-6,4,-3,2,7,-5,3,-7,4,-2,6,-4,
  -3,5,-7,2,4,-4,6,3,-3,7,-2,-5,4,3,-6,5,-3,6,-4,7,
  10,48,120,74,44,30,19,14,10,7,5,-2,3,2,0,-2,3,-1,2,-3,1];
const trace44 = [
  -3,6,-7,4,5,-2,3,-6,7,-4,2,-5,6,3,-3,7,-7,4,-2,5,
  6,-4,2,-6,4,-3,7,5,-5,2,-2,6,-7,3,-4,5,2,-3,7,-5,
  -7,3,5,-2,6,-4,-3,7,-6,4,3,-5,2,-3,6,-2,5,-6,4,2,
  3,-5,7,-3,-2,4,6,-7,5,2,-6,4,-4,7,3,-2,5,-5,2,-3,
  7,-7,3,6,-4,2,-6,4,-3,5,-5,3,-2,-6,7,4,-4,6,-2,3,
  -6,4,-4,7,3,-2,5,-5,2,-3,7,-7,3,6,-4,2,-6,4,-3,5,
  5,-3,6,-2,-6,4,2,-5,7,-3,-4,6,-2,3,-7,5,-5,4,2,-2,
  -4,7,2,-3,6,-6,4,-2,5,-7,3,5,-4,2,-2,6,-3,-5,7,4,
  -3,4,6,-5,2,5,-3,-7,6,-2,4,-6,3,5,-4,2,-5,7,-3,-1,
  11,56,140,84,48,32,21,15,11,7,4,1,-3,4,2,1,-2,3,-1,2,-2];
const trace45 = [
  4,-7,2,5,-3,6,-4,3,-6,7,-2,4,-5,2,7,-3,5,-7,6,-4,
  3,-2,6,-6,4,-5,7,-3,2,5,-4,3,-6,4,-2,6,-5,2,7,-3,
  -7,3,4,-4,6,-2,-6,5,3,-3,7,-5,2,-2,5,-4,6,-3,4,-6,
  2,-3,6,-5,3,-4,7,2,-2,5,-7,5,-3,4,-5,3,6,-6,3,-2,
  7,-5,2,-2,5,-7,4,6,-4,3,-3,6,-5,4,2,-6,3,-2,7,-4,
  -3,6,-6,4,2,-5,7,-2,3,-7,5,4,-3,-5,7,-4,2,6,-6,3,
  5,4,-3,-5,7,-4,2,6,-6,3,-2,5,-7,4,-3,6,-3,3,-5,2,
  -2,5,-7,4,3,-3,6,-4,2,-6,4,-5,7,-2,-3,5,-6,3,2,-4,
  -4,3,5,-6,2,7,-5,4,-2,-3,6,-4,2,-6,5,3,-2,4,-5,2,
  6,32,80,48,26,18,11,8,6,4,3,-2,2,1,-3,2,-1,3,-2,1,2];
const trace46 = [
  -5,3,6,-4,2,-7,5,4,-2,7,-3,-6,4,3,-5,6,-2,7,-7,2,
  5,-4,3,-3,7,-6,4,2,-5,6,-2,-7,5,3,-4,6,-3,7,-6,3,
  -2,5,-7,4,3,-4,6,-3,2,-6,5,-5,3,6,-2,-3,4,-7,5,-4,
  7,-2,-5,4,6,-7,3,-3,5,2,-4,6,-6,3,-2,5,-5,4,7,-3,
  6,-2,-4,7,-6,3,5,-3,2,-7,4,-5,6,-2,3,-6,7,-4,2,5,
  -4,7,-3,2,-6,5,4,-5,7,-2,3,-6,2,-3,6,-5,4,-7,3,2,
  3,-6,5,-4,2,7,-3,4,-7,6,-2,3,-5,2,-6,5,-4,7,-3,4,
  -5,2,4,-2,6,-4,3,-6,5,-3,2,-7,4,6,-2,-5,3,-3,6,-4,
  7,-5,2,3,-7,5,-2,6,-4,3,-3,4,-5,6,-2,3,-6,5,-3,4,
  11,53,133,80,44,29,19,14,9,6,4,2,-2,3,1,-1,3,-2,1,2,-1];
const trace47 = [
  3,-12,-8,5,-4,6,-2,-5,7,-3,4,-6,2,7,-4,-2,5,-6,3,-3,
  -6,2,7,-4,3,-7,5,2,-3,6,-5,4,-2,7,-6,3,2,-5,6,-4,
  -5,4,-2,7,-6,3,2,-5,6,-4,6,-3,4,-7,5,-2,3,-4,6,2,
  6,-3,4,-7,5,-2,3,-4,6,2,-4,7,-6,3,-2,5,-5,4,-3,7,
  -4,6,-7,3,-2,5,-5,4,-3,7,2,-6,5,-13,-7,4,-2,6,-4,3,
  2,-6,5,-3,4,4,-2,6,-4,3,-7,5,-3,2,-5,6,-4,3,7,-2,
  7,-3,-5,4,2,-4,6,-2,5,-6,3,-7,4,6,-3,-2,5,-5,2,4,
  -3,5,2,-7,6,-2,4,-4,3,7,-6,2,-3,5,-2,7,-5,4,-3,2,
  -4,3,-6,5,2,-2,7,-5,4,-3,6,-6,3,-2,5,-4,4,-5,3,-2,
  3,14,35,21,12,8,5,4,2,2,1,-2,3,0,-1,2,-2,1,3,-1,2];
const trace48 = [
  -4,5,-2,6,-7,3,4,-5,7,-3,2,-6,5,3,-4,7,-2,-5,6,4,
  -3,7,-6,2,5,-4,3,-7,6,-2,4,-3,-5,7,-2,5,-6,3,2,-4,
  4,-3,-5,7,-2,5,-6,3,2,-4,7,-5,3,4,-7,6,-3,2,-2,5,
  7,-5,3,4,-7,6,-3,2,-2,5,-2,6,-6,3,-4,5,2,-7,4,-3,
  -2,6,-6,3,-4,5,2,-7,4,-3,6,-5,3,-3,7,-6,4,-2,5,-4,
  6,-5,3,-3,7,-6,4,-2,5,-4,2,-2,6,-4,5,-7,3,2,-5,6,
  2,-2,6,-4,5,-7,3,2,-5,6,-3,7,-6,4,-2,3,-4,5,-3,7,
  -3,7,-6,4,-2,3,-4,5,-3,7,5,-6,2,-2,6,-4,3,-7,5,2,
  5,-6,2,-2,6,-4,3,-7,5,2,-2,-4,7,-6,3,4,-3,6,-5,2,
  2,12,30,18,10,7,4,3,2,2,2,1,-2,2,0,1,-1,2,-2,1,1];
const trace49 = [
  5,-2,-6,4,7,-3,2,-5,6,-4,3,7,-7,2,-3,5,-4,6,-2,4,
  -6,3,5,-5,7,-2,4,-7,3,2,6,-4,-3,5,-6,7,2,-2,4,-5,
  3,-7,6,-3,2,4,-5,7,-2,-4,3,-3,5,-6,4,2,-7,6,-2,5,
  -4,5,-6,3,-2,7,-3,2,-5,6,4,-6,3,-2,7,-5,4,2,-4,6,
  2,-7,6,-3,5,2,-4,7,-6,3,-2,4,-5,6,-3,3,-6,5,-4,7,
  -2,4,-5,6,3,-7,5,-3,2,7,-4,6,-2,3,-5,5,-7,4,-3,2,
  -4,6,-2,-6,4,3,-5,7,-3,5,-2,2,-7,6,4,-4,3,-5,7,-3,
  2,-7,6,-4,3,-2,7,-5,4,-4,5,-3,2,-6,6,-2,4,-5,3,-6,
  5,3,-4,7,-2,-6,4,2,-3,6,-5,3,-2,5,-7,4,2,-3,6,-2,
  4,20,50,30,17,11,7,5,3,2,1,-1,3,-2,2,0,-1,2,-3,1,2];
const trace50 = [
  -3,6,4,-5,2,-7,7,-2,5,-4,6,-3,-6,4,3,-5,7,2,-7,5,
  -2,4,-4,6,-6,3,5,-3,7,-5,2,-7,3,2,-2,6,-4,5,-6,7,
  2,-7,4,3,-2,6,-4,5,-6,7,-3,2,6,-5,4,-2,-7,3,5,-3,
  -3,2,6,-5,4,-2,-7,3,5,-3,7,-2,2,-6,4,-4,6,-3,5,-6,
  7,-2,2,-6,4,-4,6,-3,5,-6,3,-7,6,-4,2,5,-3,4,-2,-5,
  3,-7,6,-4,2,5,-3,4,-2,-5,7,-6,3,-4,5,2,-3,6,-7,4,
  -7,4,6,-4,2,-3,5,-5,7,-2,3,5,-5,2,-4,7,-3,4,-7,6,
  3,5,-5,2,-4,7,-3,4,-7,6,-2,-5,3,6,-6,4,2,-4,5,-3,
  -2,-5,3,6,-6,4,2,-4,5,-3,5,-2,6,-5,3,-4,6,-3,2,-2,
  5,24,60,36,20,13,8,6,4,3,2,2,-1,1,-2,3,1,-2,2,-1,2];
const trace51 = [
  6,-5,3,-2,7,-4,-6,4,2,-7,5,-3,6,-6,4,2,-4,7,-2,3,
  -5,7,-3,4,-7,5,2,-2,6,-6,3,-4,7,-5,2,6,-2,-3,4,-4,
  3,-4,7,-5,2,6,-2,-3,4,-4,7,-6,4,-7,5,-2,3,6,-4,2,
  7,-6,4,-7,5,-2,3,6,-4,2,-6,5,-3,7,-2,4,-5,2,-3,6,
  -6,5,-3,7,-2,4,-5,2,-3,6,2,-7,4,5,-4,7,-3,-2,6,-5,
  2,-7,4,5,-4,7,-3,-2,6,-5,3,6,-6,4,-2,-7,5,3,-3,2,
  3,6,-6,4,-2,-7,5,3,-3,2,-5,6,-3,7,-2,4,-6,5,2,-4,
  -5,6,-3,7,-2,4,-6,5,2,-4,6,-4,-2,5,-6,3,-5,7,-3,2,
  6,-4,-2,5,-6,3,-5,7,-3,2,4,-3,6,-7,5,-4,2,-5,6,3,
  13,64,160,96,53,35,22,16,11,8,5,-1,2,3,-2,1,-3,2,4,-1,2];

const TRACES = [
  trace01, trace02, trace03, trace04, trace05, trace06, trace07, trace08, trace09, trace10,
  trace11, trace12, trace13, trace14, trace15, trace16, trace17, trace18, trace19, trace20,
  trace21, trace22, trace23, trace24, trace25, trace26, trace27, trace28, trace29, trace30,
  trace31, trace32, trace33, trace34, trace35, trace36, trace37, trace38, trace39, trace40,
  trace41, trace42, trace43, trace44, trace45, trace46, trace47, trace48, trace49, trace50,
  trace51
];

const X_TICKS = { min: 0, max: 1, interval: 0.2 };
const Y_TICKS = { min: 0, max: 3092, interval: 500 };

const FONT = 'DejaVu Sans';
const INK = '#111111';

const frameLine = { show: true, onZero: false, lineStyle: { color: '#000', width: 1.5 } };
const innerTick = { show: true, inside: true, length: 8, lineStyle: { color: '#000', width: 1.2 } };

const series = TRACES.map((offsets, k) => ({
  type: 'line',
  xAxisIndex: 0,
  yAxisIndex: 0,
  showSymbol: false,
  symbol: 'none',
  silent: true,
  clip: true,
  lineStyle: { color: '#000', width: 2.2 },
  data: PHASE.map((p, i) => [p, BASELINES[k] + offsets[i]])
}));

const chart = echarts.init(document.getElementById('chart'), null, { renderer: 'canvas' });
chart.setOption({
  animation: false,
  backgroundColor: '#ffffff',
  grid: { left: 148, right: 40, top: 10, bottom: 74, outerBoundsMode: 'none', containLabel: false },
  xAxis: [
    {
      type: 'value', position: 'bottom', ...X_TICKS,
      name: 'Spin phase', nameLocation: 'middle', nameGap: 42,
      nameTextStyle: { fontFamily: FONT, fontSize: 32, color: INK },
      axisLine: frameLine, axisTick: innerTick,
      axisLabel: { fontFamily: FONT, fontSize: 30, color: INK, margin: 9, formatter: v => v.toFixed(1) },
      splitLine: { show: false }
    },
    {
      type: 'value', position: 'top', ...X_TICKS,
      axisLine: frameLine, axisTick: innerTick,
      axisLabel: { show: false }, splitLine: { show: false }
    }
  ],
  yAxis: [
    {
      type: 'value', position: 'left', ...Y_TICKS,
      name: 'Pulse number', nameLocation: 'middle', nameGap: 98, nameRotate: 90,
      nameTextStyle: { fontFamily: FONT, fontSize: 32, color: INK },
      axisLine: frameLine, axisTick: innerTick,
      axisLabel: { fontFamily: FONT, fontSize: 30, color: INK, margin: 13, showMaxLabel: false, formatter: v => String(v) },
      splitLine: { show: false }
    },
    {
      type: 'value', position: 'right', ...Y_TICKS,
      axisLine: frameLine, axisTick: innerTick,
      axisLabel: { show: false }, splitLine: { show: false }
    }
  ],
  series: series
});
</script>
</body>
</html>
